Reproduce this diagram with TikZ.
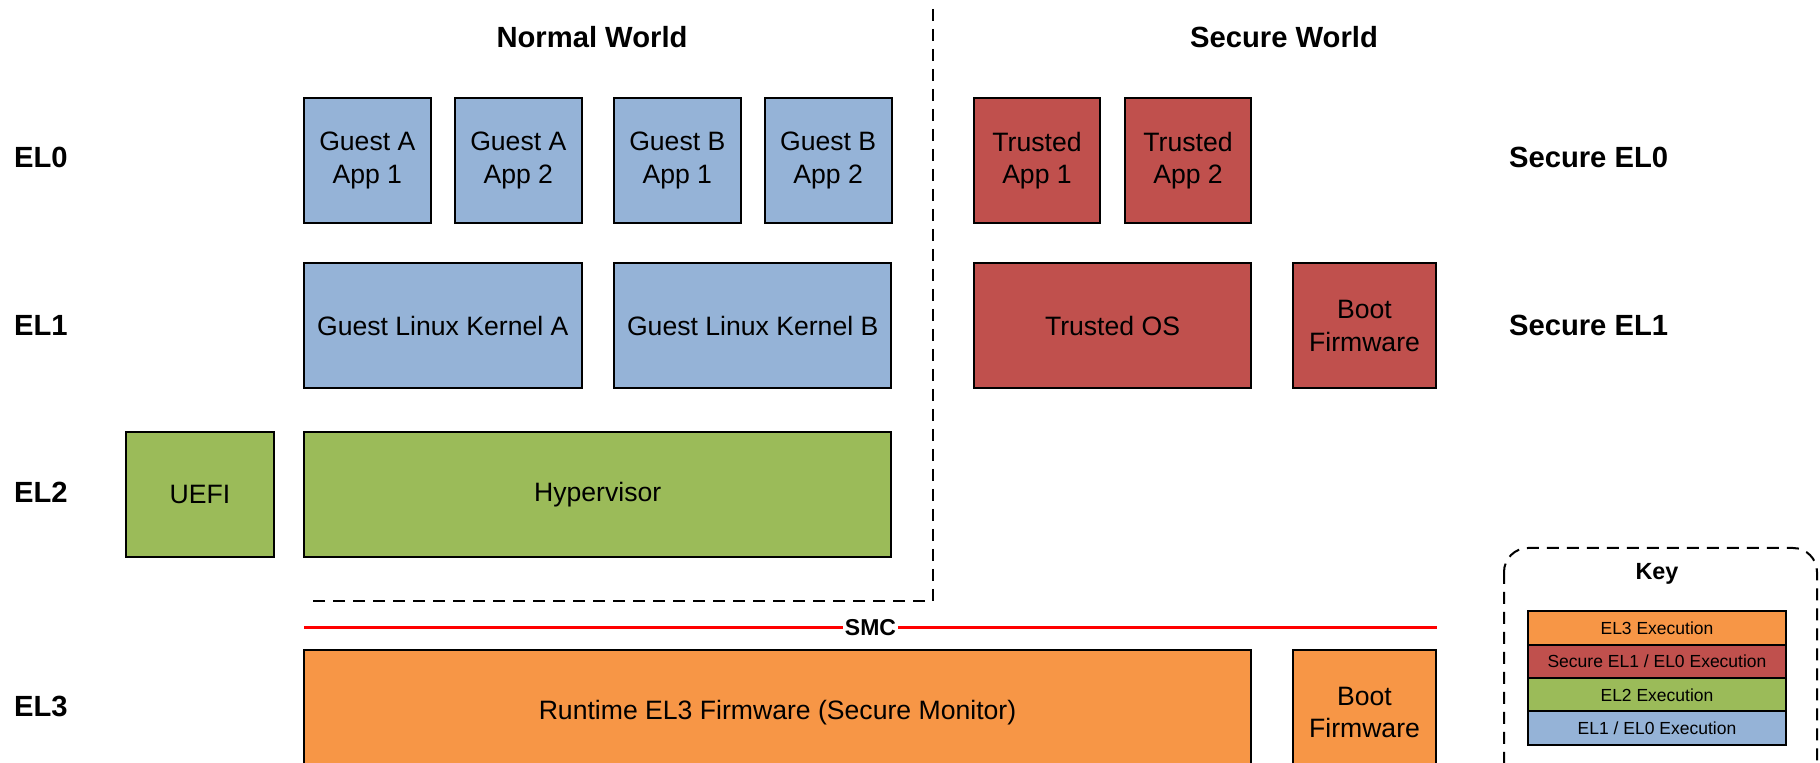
\documentclass[tikz,border=0pt]{standalone}
\usepackage{fontspec}
\setmainfont{Liberation Sans}
\usetikzlibrary{positioning}
\definecolor{nsblue}{HTML}{95B3D7}
\definecolor{sred}{HTML}{C0504D}
\definecolor{hgreen}{HTML}{9BBB59}
\definecolor{mono}{HTML}{F79646}

\begin{document}
\begin{tikzpicture}[x=0.5pt, y=-0.5pt,
    box/.style={draw=black, line width=1pt, align=center, inner sep=0pt,
      minimum height=62.5pt, font=\fontsize{13.3}{16.3}\selectfont},
    app/.style={box, minimum width=63.3pt},
    lbl/.style={font=\fontsize{14.6}{17}\selectfont\bfseries},
    keyrow/.style={draw=black, line width=1pt, inner sep=0pt, outer sep=0pt, minimum width=129.3pt,
      minimum height=16.7pt, font=\fontsize{8.75}{10.5}\selectfont}]
      \useasboundingbox (0,0) rectangle (1820,763);

      % worlds
      \node[lbl, name=nw] at (592,37) {Normal World};
      \node[lbl, name=sw] at (1284,37) {Secure World};
      \draw[line width=1pt, dash pattern=on 6pt off 4pt] (933,9) -- (933,601) -- (311,601);

      % exception levels
      \node[lbl, anchor=west, name=el0] at (7,157) {EL0};
      \node[lbl, anchor=west, name=el1] at (7,325) {EL1};
      \node[lbl, anchor=west, name=el2] at (7,492) {EL2};
      \node[lbl, anchor=west, name=el3] at (7,706) {EL3};
      \node[lbl, anchor=west, name=sel0] at (1502,157) {Secure EL0};
      \node[lbl, anchor=west, name=sel1] at (1502,325) {Secure EL1};

      % EL0
      \node[app, fill=nsblue, name=ga1] at (367.3,160.5) {Guest A\\App 1};
      \node[app, fill=nsblue, name=ga2] at (518.3,160.5) {Guest A\\App 2};
      \node[app, fill=nsblue, name=gb1] at (677.3,160.5) {Guest B\\App 1};
      \node[app, fill=nsblue, name=gb2] at (828.2,160.5) {Guest B\\App 2};
      \node[app, fill=sred, name=ta1] at (1037,160.5) {Trusted\\App 1};
      \node[app, fill=sred, name=ta2] at (1188,160.5) {Trusted\\App 2};

      % EL1
      \node[box, fill=nsblue, minimum width=138.7pt, name=gka] at (442.8,326) {Guest Linux Kernel A};
      \node[box, fill=nsblue, minimum width=138.7pt, name=gkb] at (752.7,326) {Guest Linux Kernel B};
      \node[box, fill=sred, minimum width=138.5pt, name=tos] at (1112.5,326) {Trusted OS};
      \node[box, fill=sred, minimum width=71.5pt, name=bfw1] at (1364.5,326) {Boot\\Firmware};

      % EL2
      \node[box, fill=hgreen, minimum width=73.7pt, name=uefi] at (200,494.4) {UEFI};
      \node[box, fill=hgreen, minimum width=293.7pt, name=hyp] at (597.7,494.4) {Hypervisor};

      % SMC
      \coordinate (smcl) at (304,628);
      \coordinate (smcr) at (1437,628);
      \draw[red, line width=1.5pt] (smcl) -- node[fill=white, inner sep=1pt, text=black,
        font=\fontsize{11.5}{13}\selectfont\bfseries, name=smc] {SMC} (smcr);

      % EL3
      \node[box, fill=mono, minimum width=473.5pt, name=rt] at (777.5,712.5) {Runtime EL3 Firmware (Secure Monitor)};
      \node[box, fill=mono, minimum width=71.5pt, name=bfw3] at (1364.5,712.5) {Boot\\Firmware};

      % key
      \draw[line width=1pt, dash pattern=on 6pt off 4pt, rounded corners=12pt] (1504,548) rectangle (1817,820);
      \node[font=\fontsize{11.7}{13}\selectfont\bfseries, name=key] at (1657,573.5) {Key};
      \node[keyrow, fill=mono, name=k3] at (1657,628) {EL3 Execution};
      \node[keyrow, fill=sred, below=0pt of k3, name=ks] {Secure EL1 / EL0 Execution};
      \node[keyrow, fill=hgreen, below=0pt of ks, name=k2] {EL2 Execution};
      \node[keyrow, fill=nsblue, below=0pt of k2, name=k1] {EL1 / EL0 Execution};
   \end{tikzpicture}
\end{document}
